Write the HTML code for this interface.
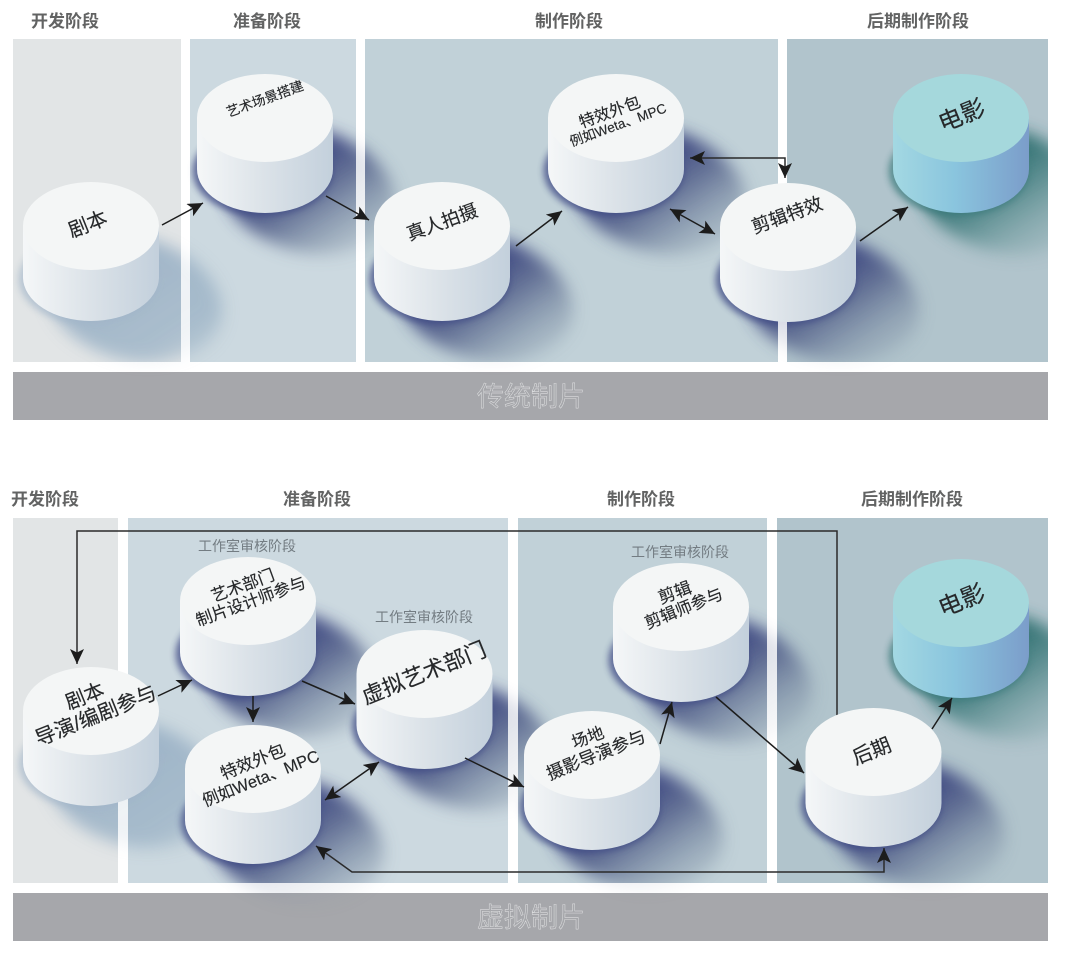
<!DOCTYPE html>
<html lang="zh"><head><meta charset="utf-8"><title>传统制片与虚拟制片</title>
<style>
html,body{margin:0;padding:0;background:#fff}
svg{display:block;filter:blur(.35px)}
text{font-family:"Liberation Sans","Noto Sans CJK SC",sans-serif;text-anchor:middle;dominant-baseline:central}
.h{font-size:17px;font-weight:700;fill:#626363}
.l{fill:#26282a;stroke:#26282a;stroke-width:.15}
.s{font-size:14px;fill:#737c82}
.b{font-size:27px;fill:#a6a7ab;stroke:#e4e5e6;stroke-width:.45}
</style></head><body>
<svg width="1080" height="954" viewBox="0 0 1080 954" xmlns="http://www.w3.org/2000/svg">
<defs>
<linearGradient id="body" x1="0" x2="1" y1="0" y2="0"><stop offset="0" stop-color="#f5f7f8"/><stop offset=".5" stop-color="#dbe2e8"/><stop offset="1" stop-color="#c3d0dc"/></linearGradient>
<linearGradient id="bodyF" x1="0" x2="1" y1="0" y2="0"><stop offset="0" stop-color="#a3d8e2"/><stop offset=".45" stop-color="#8ac5de"/><stop offset="1" stop-color="#7b9dca"/></linearGradient>
<linearGradient id="gN" gradientUnits="userSpaceOnUse" x1="50" y1="35" x2="118" y2="140"><stop offset="0" stop-color="#3c4680" stop-opacity=".95"/><stop offset=".28" stop-color="#56638c" stop-opacity=".85"/><stop offset=".62" stop-color="#7d8ea5" stop-opacity=".55"/><stop offset="1" stop-color="#8b9cae" stop-opacity="0"/></linearGradient>
<linearGradient id="gB" gradientUnits="userSpaceOnUse" x1="50" y1="40" x2="122" y2="148"><stop offset="0" stop-color="#99b0c5" stop-opacity=".85"/><stop offset=".6" stop-color="#a0b6c8" stop-opacity=".8"/><stop offset=".82" stop-color="#a8bccb" stop-opacity=".45"/><stop offset="1" stop-color="#a8bccb" stop-opacity="0"/></linearGradient>
<linearGradient id="gT" gradientUnits="userSpaceOnUse" x1="50" y1="35" x2="118" y2="140"><stop offset="0" stop-color="#2f6f70" stop-opacity=".95"/><stop offset=".28" stop-color="#4f8688" stop-opacity=".85"/><stop offset=".62" stop-color="#7ba2a6" stop-opacity=".55"/><stop offset="1" stop-color="#86a9ad" stop-opacity="0"/></linearGradient>
<filter id="f1" x="-30%" y="-30%" width="160%" height="160%"><feGaussianBlur stdDeviation="8"/></filter>
<filter id="f2" x="-20%" y="-20%" width="140%" height="140%"><feGaussianBlur stdDeviation="3.5"/></filter>
<path id="blob" d="M50 12C100 22 134 60 130 90C126 128 72 146 22 130C-18 116 -42 92 -42 60C-42 28 8 4 50 12Z"/>
<g id="sN"><use href="#blob" fill="url(#gN)" filter="url(#f1)"/><ellipse cx="-2" cy="53" rx="70" ry="45" fill="#414c85" opacity=".75" filter="url(#f2)"/></g>
<g id="sB"><use href="#blob" fill="url(#gB)" filter="url(#f1)"/><ellipse cx="-2" cy="53" rx="70" ry="45" fill="#a0b4c8" opacity=".6" filter="url(#f2)"/></g>
<g id="sT"><use href="#blob" fill="url(#gT)" filter="url(#f1)"/><ellipse cx="-2" cy="53" rx="70" ry="45" fill="#3a7a7c" opacity=".7" filter="url(#f2)"/></g>
<g id="cyl"><path d="M-68 0V51A68 44 0 0 0 68 51V0Z" fill="url(#body)"/><ellipse rx="68" ry="44" fill="#f4f6f6"/></g>
<g id="film"><path d="M-68 0V51A68 44 0 0 0 68 51V0Z" fill="url(#bodyF)"/><ellipse rx="68" ry="44" fill="#a5d8dc"/></g>
<clipPath id="panels">
<rect x="13" y="39" width="168" height="323"/><rect x="190" y="39" width="166" height="323"/><rect x="365" y="39" width="413" height="323"/><rect x="787" y="39" width="261" height="323"/>
<rect x="13" y="518" width="105" height="365"/><rect x="128" y="518" width="380" height="365"/><rect x="518" y="518" width="249" height="365"/><rect x="777" y="518" width="271" height="365"/>
</clipPath>
<clipPath id="inner"><rect x="13" y="0" width="1035" height="954"/></clipPath>
<g id="shadows">
<use href="#sB" x="91" y="226"/><use href="#sN" x="265" y="118"/><use href="#sN" x="442" y="226"/><use href="#sN" x="616" y="118"/><use href="#sN" x="788" y="227"/><use href="#sT" x="961" y="118"/>
<use href="#sB" x="91" y="711"/><use href="#sN" x="248" y="601"/><use href="#sN" x="253" y="769"/><use href="#sN" x="424.5" y="674"/><use href="#sN" x="592" y="755"/><use href="#sN" x="681" y="607"/><use href="#sN" x="873.5" y="752"/><use href="#sT" x="961" y="603"/>
</g>
<marker id="a" markerUnits="userSpaceOnUse" markerWidth="18" markerHeight="16" refX="15" refY="7" orient="auto-start-reverse"><path d="M0 0L15 7L0 14L3.5 7Z" fill="#1c1c1c"/></marker>
</defs>

<rect width="1080" height="954" fill="#fff"/>
<rect x="13" y="39" width="168" height="323" fill="#e2e5e6"/>
<rect x="190" y="39" width="166" height="323" fill="#ccd9e0"/>
<rect x="365" y="39" width="413" height="323" fill="#c1d1d8"/>
<rect x="787" y="39" width="261" height="323" fill="#b1c4cc"/>
<rect x="13" y="372" width="1035" height="48" fill="#a6a7ab"/>
<rect x="13" y="518" width="105" height="365" fill="#e2e5e6"/>
<rect x="128" y="518" width="380" height="365" fill="#ccd9e0"/>
<rect x="518" y="518" width="249" height="365" fill="#c1d1d8"/>
<rect x="777" y="518" width="271" height="365" fill="#b1c4cc"/>
<rect x="13" y="893" width="1035" height="48" fill="#a6a7ab"/>

<g clip-path="url(#inner)"><use href="#shadows" opacity=".2"/></g>
<g clip-path="url(#panels)"><use href="#shadows"/></g>

<g fill="none" stroke="#2a2a2a" stroke-width="1.5">
<path d="M837 716V531H77V664" marker-end="url(#a)"/>
<path d="M316 846L352 872H884V848" marker-start="url(#a)" marker-end="url(#a)"/>
<path d="M690 158H785V178" marker-start="url(#a)" marker-end="url(#a)"/>
</g>

<use href="#cyl" x="91" y="226"/><use href="#cyl" x="265" y="118"/><use href="#cyl" x="442" y="226"/><use href="#cyl" x="616" y="118"/><use href="#cyl" x="788" y="227"/><use href="#film" x="961" y="118"/>
<use href="#cyl" x="91" y="711"/><use href="#cyl" x="248" y="601"/><use href="#cyl" x="253" y="769"/><use href="#cyl" x="424.5" y="674"/><use href="#cyl" x="592" y="755"/><use href="#cyl" x="681" y="607"/><use href="#cyl" x="873.5" y="752"/><use href="#film" x="961" y="603"/>

<g fill="none" stroke="#1c1c1c" stroke-width="1.5">
<path d="M162 225L203 203" marker-end="url(#a)"/>
<path d="M326 196L369 220" marker-end="url(#a)"/>
<path d="M516 246L562 211" marker-end="url(#a)"/>
<path d="M670 209L715 234" marker-start="url(#a)" marker-end="url(#a)"/>
<path d="M860 241L908 207" marker-end="url(#a)"/>
<path d="M158 696L192 680" marker-end="url(#a)"/>
<path d="M253 696V722" marker-end="url(#a)"/>
<path d="M302 681L355 704" marker-end="url(#a)"/>
<path d="M465 758L524 787" marker-end="url(#a)"/>
<path d="M325 800L379 762" marker-start="url(#a)" marker-end="url(#a)"/>
<path d="M660 744L672 702" marker-end="url(#a)"/>
<path d="M716 697L804 773" marker-end="url(#a)"/>
<path d="M932 729L952 698" marker-end="url(#a)"/>
</g>

<text class="h" x="65" y="21.5">开发阶段</text><text class="h" x="267" y="21.5">准备阶段</text><text class="h" x="569" y="21.5">制作阶段</text><text class="h" x="918" y="21.5">后期制作阶段</text>
<text class="h" x="45" y="499.5">开发阶段</text><text class="h" x="317" y="499.5">准备阶段</text><text class="h" x="641" y="499.5">制作阶段</text><text class="h" x="912" y="499.5">后期制作阶段</text>
<text class="b" x="531" y="397">传统制片</text><text class="b" x="531" y="918">虚拟制片</text>
<text class="s" x="247" y="546">工作室审核阶段</text><text class="s" x="424" y="617">工作室审核阶段</text><text class="s" x="680" y="552">工作室审核阶段</text>

<text class="l" font-size="20" transform="translate(88 225) rotate(-22)">剧本</text>
<text class="l" font-size="13.5" transform="translate(265 99) rotate(-20)">艺术场景搭建</text>
<text class="l" font-size="18.5" transform="translate(442 222) rotate(-20)">真人拍摄</text>
<text class="l" font-size="16" transform="translate(610 113) rotate(-20)">特效外包</text>
<text class="l" font-size="13.5" transform="translate(618 125) rotate(-20)">例如Weta、MPC</text>
<text class="l" font-size="18.5" transform="translate(787 215) rotate(-20)">剪辑特效</text>
<text class="l" font-size="24" transform="translate(962 116) rotate(-22)">电影</text>
<text class="l" font-size="20" transform="translate(85 697) rotate(-22)">剧本</text>
<text class="l" font-size="20.5" transform="translate(96 716) rotate(-22)">导演/编剧参与</text>
<text class="l" font-size="16.5" transform="translate(243 586) rotate(-20)">艺术部门</text>
<text class="l" font-size="16.5" transform="translate(251 602) rotate(-20)">制片设计师参与</text>
<text class="l" font-size="17" transform="translate(253 762) rotate(-22)">特效外包</text>
<text class="l" font-size="16.5" transform="translate(261 779) rotate(-22)">例如Weta、MPC</text>
<text class="l" font-size="22" transform="translate(424 673) rotate(-22)">虚拟艺术部门</text>
<text class="l" font-size="17" transform="translate(675 593) rotate(-20)">剪辑</text>
<text class="l" font-size="16.5" transform="translate(684 609) rotate(-22)">剪辑师参与</text>
<text class="l" font-size="16.5" transform="translate(588 738) rotate(-20)">场地</text>
<text class="l" font-size="17.5" transform="translate(596 755) rotate(-22)">摄影导演参与</text>
<text class="l" font-size="20" transform="translate(872 752) rotate(-22)">后期</text>
<text class="l" font-size="24" transform="translate(962 601) rotate(-22)">电影</text>
</svg>
</body></html>
